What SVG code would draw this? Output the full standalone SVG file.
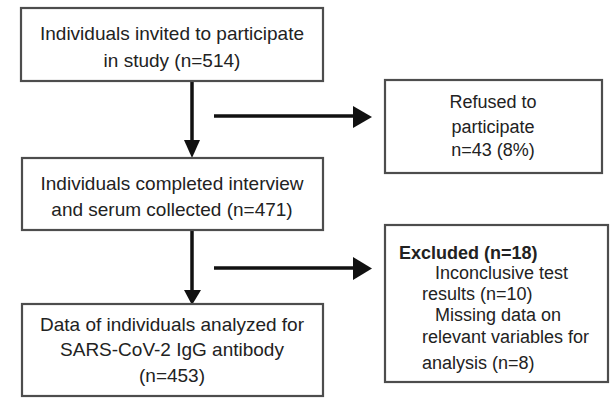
<svg xmlns="http://www.w3.org/2000/svg" width="613" height="398" viewBox="0 0 613 398">
<style>
.box{fill:#fff;stroke:#4d4d4d;stroke-width:2.2}
.t{font-family:"Liberation Sans",Arial,sans-serif;font-size:19px;fill:#222}
.s{font-family:"Liberation Sans",Arial,sans-serif;font-size:18px;fill:#222}
.c{text-anchor:middle}
.ln{stroke:#111;stroke-width:3.5;fill:none}
.ah{fill:#111}
</style>
<rect width="613" height="398" fill="#fff"/>
<g id="connectors">
<line class="ln" x1="192" y1="81" x2="192" y2="142"/>
<polygon class="ah" points="184,140 200,140 192,158"/>
<line class="ln" x1="192" y1="230" x2="192" y2="292"/>
<polygon class="ah" points="184,290 201,290 192,305"/>
<line class="ln" x1="214" y1="116" x2="356" y2="116"/>
<polygon class="ah" points="353,106 372,117 353,128"/>
<line class="ln" x1="214" y1="268" x2="356" y2="268"/>
<polygon class="ah" points="353,257 372,268.5 353,280"/>
</g>
<g id="invited">
<rect class="box" x="21" y="8" width="302" height="73"/>
<text class="t c" x="172" y="40">Individuals invited to participate</text>
<text class="t c" x="172" y="67">in study (n=514)</text>
</g>
<g id="completed">
<rect class="box" x="22" y="158" width="301" height="72"/>
<text class="t c" x="172" y="190">Individuals completed interview</text>
<text class="t c" x="172" y="216">and serum collected (n=471)</text>
</g>
<g id="analyzed">
<rect class="box" x="22" y="304" width="301" height="92"/>
<text class="t c" x="172" y="331">Data of individuals analyzed for</text>
<text class="t c" x="172" y="356">SARS-CoV-2 IgG antibody</text>
<text class="t c" x="172" y="382">(n=453)</text>
</g>
<g id="refused">
<rect class="box" x="385" y="80" width="217" height="93"/>
<text class="s c" x="493" y="108">Refused to</text>
<text class="s c" x="493" y="133">participate</text>
<text class="s c" x="493" y="156">n=43 (8%)</text>
</g>
<g id="excluded">
<rect class="box" x="385" y="225" width="223" height="157"/>
<text class="s" x="399" y="259" font-weight="bold">Excluded (n=18)</text>
<text class="s" x="435" y="279">Inconclusive test</text>
<text class="s" x="422" y="300">results (n=10)</text>
<text class="s" x="435" y="321">Missing data on</text>
<text class="s" x="422" y="343">relevant variables for</text>
<text class="s" x="422" y="369">analysis (n=8)</text>
</g>
</svg>
